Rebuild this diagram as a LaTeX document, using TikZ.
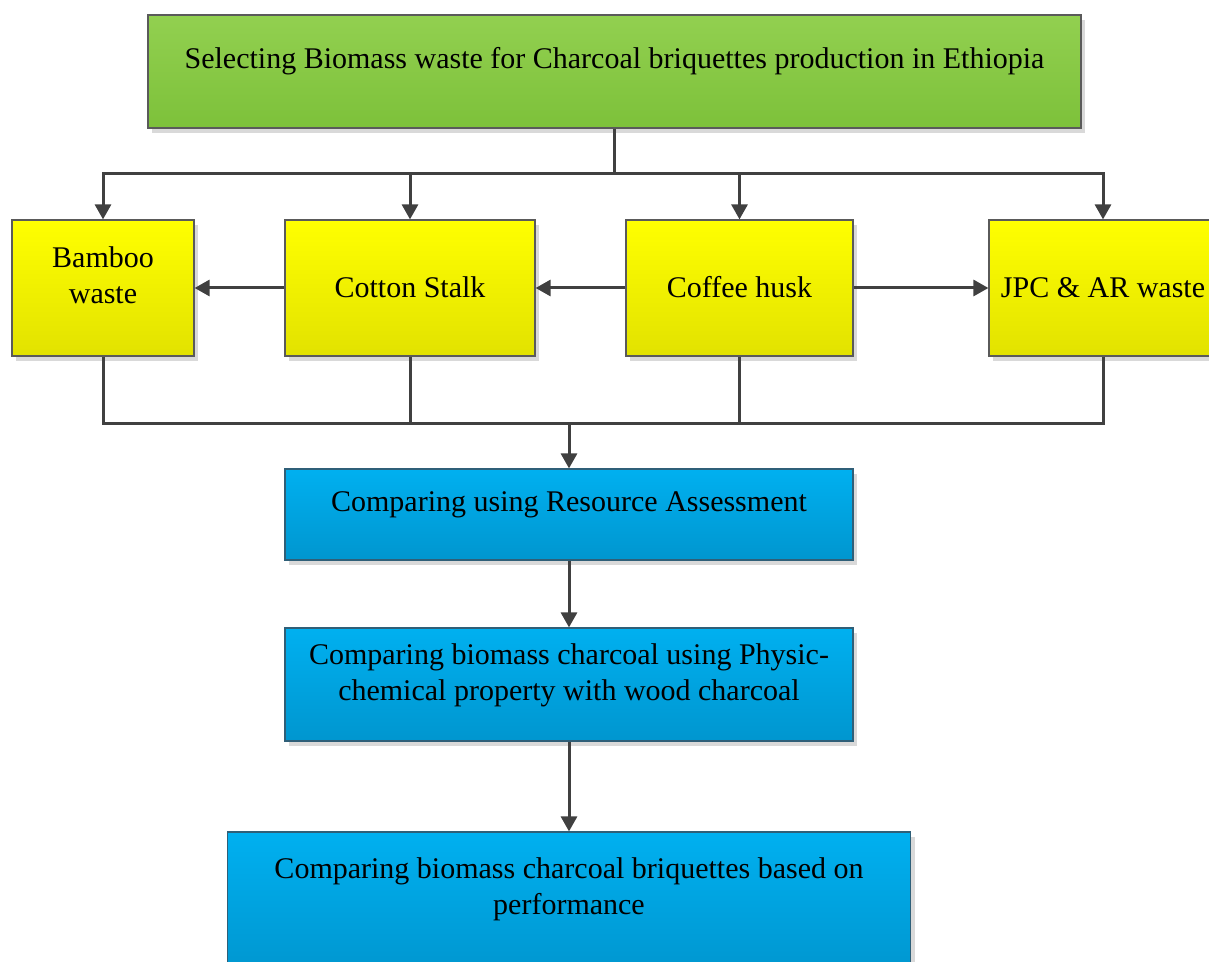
\documentclass[tikz,border=0pt]{standalone}
\usepackage{fontspec}
\setmainfont{Liberation Serif}
\usepackage{tikz}
\usetikzlibrary{arrows.meta,shadows}
\definecolor{edge}{HTML}{404040}
\definecolor{frame}{HTML}{5A5A5A}
\definecolor{greentop}{HTML}{92D050}
\definecolor{greenbot}{HTML}{7DC13A}
\definecolor{yellowtop}{HTML}{FFFF00}
\definecolor{yellowbot}{HTML}{E2E200}
\definecolor{bluetop}{HTML}{00B0F0}
\definecolor{bluebot}{HTML}{0096CF}
\definecolor{blueframe}{HTML}{2F5F78}
\tikzset{
  panel/.style={rectangle, draw=frame, line width=0.6pt, inner sep=0pt,
    drop shadow={shadow xshift=2pt, shadow yshift=-2.5pt, fill=black!15, opacity=1}},
  gbox/.style={panel, top color=greentop, bottom color=greenbot},
  ybox/.style={panel, top color=yellowtop, bottom color=yellowbot},
  bbox/.style={panel, draw=blueframe, top color=bluetop, bottom color=bluebot},
  lbl/.style={anchor=center, align=center, text=black, font=\fontsize{15}{18}\selectfont},
  line/.style={draw=edge, line width=1.5pt},
  arr/.style={line, -{Triangle[length=7.5pt,width=8pt]}}
}

\begin{document}
\begin{tikzpicture}[x=0.5pt, y=-0.5pt]
  \clip (0,0) rectangle (1209,962);

  \node[gbox, minimum width=466.5pt, minimum height=56.5pt,
    label={[lbl, yshift=-23.5pt]north:Selecting Biomass waste for Charcoal briquettes production in Ethiopia}] (select) at (614.5,71.5) {};

  \node[ybox, minimum width=91pt, minimum height=68pt,
    label={[lbl, yshift=-28pt]north:Bamboo\\waste}] (bamboo) at (103,288) {};
  \node[ybox, minimum width=125pt, minimum height=68pt,
    label={[lbl, yshift=-34pt]north:Cotton Stalk}] (cotton) at (410,288) {};
  \node[ybox, minimum width=113.5pt, minimum height=68pt,
    label={[lbl, yshift=-34pt]north:Coffee husk}] (coffee) at (739.5,288) {};
  \node[ybox, minimum width=114pt, minimum height=68pt,
    label={[lbl, yshift=-34pt]north:JPC \& AR waste}] (jpc) at (1103,288) {};

  \node[bbox, minimum width=284pt, minimum height=45.5pt,
    label={[lbl, yshift=-18pt]north:Comparing using Resource Assessment}] (resource) at (569,514.5) {};
  \node[bbox, minimum width=284pt, minimum height=56.5pt,
    label={[lbl, yshift=-24pt]north:Comparing biomass charcoal using Physic-\\chemical property with wood charcoal}] (physic) at (569,684.5) {};
  \node[bbox, minimum width=341.5pt, minimum height=71.5pt,
    label={[lbl, yshift=-29pt]north:Comparing biomass charcoal briquettes based on\\performance}] (perf) at (569,903.5) {};

  \coordinate (split) at (select.south |- 0,174);
  \coordinate (merge) at (resource.north |- 0,423);

  \draw[line] (select.south) -- (split);
  \foreach \n in {bamboo,cotton,coffee,jpc}
    \draw[arr] (split) -| (\n.north);

  \draw[arr] (cotton) -- (bamboo);
  \draw[arr] (coffee) -- (cotton);
  \draw[arr] (coffee) -- (jpc);

  \foreach \n in {bamboo,cotton,coffee,jpc}
    \draw[line] (\n.south) |- (merge);

  \draw[arr] (merge) -- (resource.north);
  \draw[arr] (resource) -- (physic);
  \draw[arr] (physic) -- (perf);
\end{tikzpicture}
\end{document}
